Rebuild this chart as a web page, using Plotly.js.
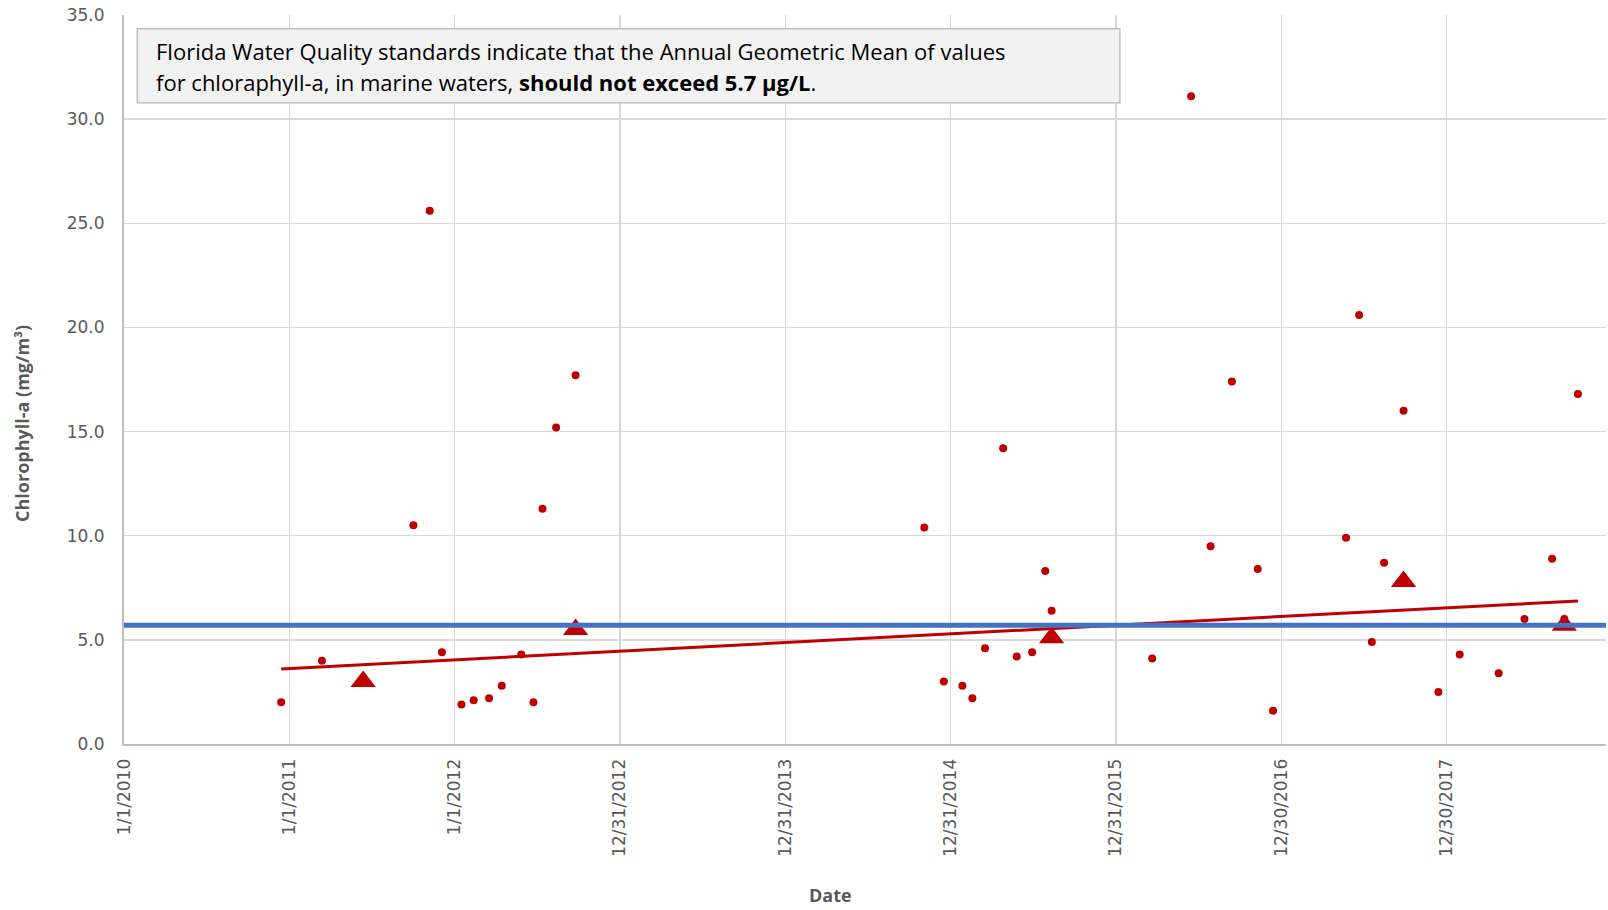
<!DOCTYPE html>
<html>
<head>
<meta charset="utf-8">
<script src="https://cdn.plot.ly/plotly-3.0.1.min.js"></script>
<style>html,body{margin:0;padding:0;background:#fff;}#chart{width:1608px;height:910px;}</style>
</head>
<body>
<div id="chart"></div>
<script>
// Individual chlorophyll-a samples
const sampleDates = [
  '2010-12-14','2011-03-14','2011-10-02','2011-11-07','2011-12-04',
  '2012-01-16','2012-02-12','2012-03-17','2012-04-14','2012-05-27','2012-06-23','2012-07-13','2012-08-12','2012-09-24',
  '2014-11-03','2014-12-16','2015-01-26','2015-02-17','2015-03-17','2015-04-26','2015-05-26','2015-06-29','2015-07-28','2015-08-11',
  '2016-03-20','2016-06-14','2016-07-27','2016-09-12','2016-11-08','2016-12-12',
  '2017-05-22','2017-06-20','2017-07-18','2017-08-14','2017-09-26','2017-12-12',
  '2018-01-28','2018-04-24','2018-06-20','2018-08-20','2018-09-16','2018-10-16'
];
const sampleValues = [
  2.0, 4.0, 10.5, 25.6, 4.4,
  1.9, 2.1, 2.2, 2.8, 4.3, 2.0, 11.3, 15.2, 17.7,
  10.4, 3.0, 2.8, 2.2, 4.6, 14.2, 4.2, 4.4, 8.3, 6.4,
  4.1, 31.1, 9.5, 17.4, 8.4, 1.6,
  9.9, 20.6, 4.9, 8.7, 16.0, 2.5,
  4.3, 3.4, 6.0, 8.9, 6.0, 16.8
];
// Annual geometric means (triangles)
const meanDates = ['2011-06-13','2012-09-24','2015-08-11','2017-09-26','2018-09-16'];
const meanValues = [3.0, 5.5, 5.1, 7.8, 5.7];
// Linear trend line end points
const trendDates = ['2010-12-14','2018-10-16'];
const trendValues = [3.6, 6.87];
// Florida standard
const standardValue = 5.7;
// Axis ticks
const xTickVals = ['2010-01-01','2011-01-01','2012-01-01','2012-12-31','2013-12-31','2014-12-31','2015-12-31','2016-12-30','2017-12-30'];
const xTickText = ['1/1/2010','1/1/2011','1/1/2012','12/31/2012','12/31/2013','12/31/2014','12/31/2015','12/30/2016','12/30/2017'];
const xRange = ['2010-01-01','2018-12-17'];
const yRange = [0, 35];

const red = '#C00000';
const grey = '#595959';

const traces = [
  {
    type: 'scatter', mode: 'lines', x: trendDates, y: trendValues,
    line: {color: red, width: 3}, hoverinfo: 'skip', showlegend: false
  },
  {
    type: 'scatter', mode: 'markers', x: sampleDates, y: sampleValues,
    marker: {color: red, size: 8, symbol: 'circle'}, showlegend: false
  },
  {
    type: 'scatter', mode: 'markers', x: meanDates, y: meanValues,
    marker: {color: red, size: 22, symbol: 'triangle-up'}, showlegend: false
  }
];

const layout = {
  width: 1608, height: 910,
  margin: {l: 124, r: 2, t: 15, b: 166, pad: 0},
  paper_bgcolor: '#ffffff', plot_bgcolor: '#ffffff',
  font: {family: 'DejaVu Sans', size: 17, color: grey},
  showlegend: false,
  xaxis: {
    type: 'date', range: xRange,
    tickmode: 'array', tickvals: xTickVals, ticktext: xTickText,
    tickangle: -90, ticks: '', ticklabelstandoff: 6,
    tickfont: {family: 'DejaVu Sans', size: 17, color: grey},
    showgrid: true, gridcolor: '#D9D9D9', gridwidth: 1.5,
    showline: true, linecolor: '#BFBFBF', linewidth: 2,
    zeroline: false
  },
  yaxis: {
    range: yRange, dtick: 5, tick0: 0, tickformat: '.1f',
    ticks: '', ticklabelstandoff: 14,
    tickfont: {family: 'DejaVu Sans', size: 17, color: grey},
    showgrid: true, gridcolor: '#D9D9D9', gridwidth: 1.5,
    showline: true, linecolor: '#BFBFBF', linewidth: 2,
    zeroline: false
  },
  shapes: [
    {type: 'line', xref: 'paper', x0: 0, x1: 1, yref: 'y', y0: standardValue, y1: standardValue,
     line: {color: '#4472C4', width: 5}, layer: 'above'},
    {type: 'rect', xref: 'paper', yref: 'paper', x0: 0.009, x1: 0.672, y0: 0.8798, y1: 0.9812,
     fillcolor: '#F2F2F2', line: {color: '#BFBFBF', width: 1.5}, layer: 'above'}
  ],
  annotations: [
    {xref: 'paper', yref: 'paper', x: 0.0202, y: 0.9506, xanchor: 'left', yanchor: 'middle', showarrow: false,
     text: 'Florida Water Quality standards indicate that the Annual Geometric Mean of values',
     font: {family: 'Open Sans', size: 22, color: '#000000'}},
    {xref: 'paper', yref: 'paper', x: 0.0202, y: 0.908, xanchor: 'left', yanchor: 'middle', showarrow: false,
     text: 'for chloraphyll-a, in marine waters, <b>should not exceed 5.7 µg/L</b>.',
     font: {family: 'Open Sans', size: 22, color: '#000000'}},
    {xref: 'paper', yref: 'paper', x: -0.0685, y: 0.4397, xanchor: 'center', yanchor: 'middle', showarrow: false,
     textangle: -90, text: '<b>Chlorophyll-a (mg/m³)</b>',
     font: {family: 'Open Sans', size: 18, color: grey}},
    {xref: 'paper', yref: 'paper', x: 0.477, y: -0.2071, xanchor: 'center', yanchor: 'middle', showarrow: false,
     text: '<b>Date</b>',
     font: {family: 'Open Sans', size: 18, color: grey}}
  ]
};

Plotly.newPlot('chart', traces, layout, {displayModeBar: false, staticPlot: true});
</script>
</body>
</html>
